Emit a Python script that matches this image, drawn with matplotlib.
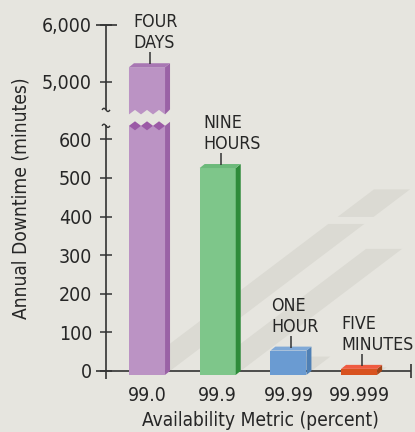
import numpy as np
import matplotlib
matplotlib.use("Agg")
import matplotlib.pyplot as plt
from matplotlib.patches import Polygon
from matplotlib.transforms import IdentityTransform
from matplotlib.lines import Line2D

# ---------------- data ----------------
categories = ["99.0", "99.9", "99.99", "99.999"]
downtime_minutes = [5256, 525.6, 52.56, 5.26]
bar_labels = ["FOUR\nDAYS", "NINE\nHOURS", "ONE\nHOUR", "FIVE\nMINUTES"]
ytick_values = [0, 100, 200, 300, 400, 500, 600, 5000, 6000]
ytick_labels = ["0", "100", "200", "300", "400", "500", "600", "5,000", "6,000"]

front_colors = ["#bb93c4", "#7ec68a", "#6a9bd2", "#d8521f"]
side_colors = ["#9a62a6", "#2e8b3a", "#4f80b5", "#a34417"]
top_colors = ["#a877b3", "#6cb97a", "#80a9d7", "#ef5b41"]
diamond_color = "#9b5aa6"
bg = "#e6e5df"
shadow_color = "#dbdad3"
ink = "#262626"

# broken-axis scale (piecewise linear)
LOW_TOP = 635.0
HIGH_BOTTOM = 4511.0
sv = np.array([-1000.0, 0.0, LOW_TOP, HIGH_BOTTOM, 5000.0, 6000.0, 20000.0])
sp = np.array([-386.0, 0.0, 245.1, 261.0, 289.0, 346.3, 346.3 + 14000 * 0.0573])


def fwd(v):
    return np.interp(v, sv, sp)


def inv(p):
    return np.interp(p, sp, sv)


FONT = dict(family="DejaVu Sans", stretch="condensed")

fig = plt.figure(figsize=(4.15, 4.32), dpi=100, facecolor=bg)
W, H = 415, 432
ax = fig.add_axes([106 / W, 53 / H, 305 / W, 354.4 / H])
ax.set_facecolor("none")
ax.set_yscale("function", functions=(fwd, inv))
ax.set_ylim(-21, 6000)
ax.set_xlim(-0.58, 3.734)
for s in ax.spines.values():
    s.set_visible(False)

ax.set_yticks(ytick_values)
ax.set_yticklabels(ytick_labels, fontsize=14, color=ink, **FONT)
ax.tick_params(axis="y", direction="inout", length=8, width=1.1, color="#333333", pad=6)
ax.set_xticks(range(len(categories)))
ax.set_xticklabels(categories, fontsize=14, color=ink, **FONT)
ax.tick_params(axis="x", length=0, pad=5)
ax.yaxis.set_minor_locator(matplotlib.ticker.NullLocator())

fig.canvas.draw()
T = ax.transData


def D(x, y):
    return T.transform((x, y))


ident = IdentityTransform()


def poly(pts, color, z):
    p = Polygon(pts, closed=True, facecolor=color, edgecolor="none", transform=ident, zorder=z)
    fig.add_artist(p)


def line(pts, z=3, lw=1.2, color="#333333"):
    pts = np.array(pts)
    fig.add_artist(Line2D(pts[:, 0], pts[:, 1], transform=ident, color=color, lw=lw, zorder=z,
                          solid_capstyle="butt"))


DX, DY = 5.0, 4.0
half = 0.255
bottom_val = -10.4
SX, SY = 0.78, 0.59
label_dx = [4, 4, 1, 0.5]

# --- shadows ---
for i, v in enumerate(downtime_minutes):
    xl = D(i - half, 0)[0] + DX
    xr = D(i + half, 0)[0] + DX
    base = D(0, bottom_val)[1]
    top = D(0, v)[1]
    Htot = top - base
    segs = [(0, Htot)]
    if v > LOW_TOP:
        segs = [(0, D(0, LOW_TOP)[1] - base), (D(0, HIGH_BOTTOM)[1] - 4 - base, Htot)]
    b0 = base + DY
    for h1, h2 in segs:
        poly([(xl + SX * h1, b0 + SY * h1), (xr + SX * h1, b0 + SY * h1),
              (xr + SX * h2, b0 + SY * h2), (xl + SX * h2, b0 + SY * h2)], shadow_color, 1)

# --- axis lines ---
x_axis_left = D(-0.58, 0)[0]
y0 = D(0, 0)[1]
line([(x_axis_left - 10, y0), (D(3.734, 0)[0], y0)])
xe = D(3.734, 0)[0]
line([(xe, y0 - 7), (xe, y0 + 7)])
ytop = D(0, 6000)[1]
ylow_break = D(0, LOW_TOP)[1]
yhigh_break = D(0, HIGH_BOTTOM)[1]
line([(x_axis_left, ytop), (x_axis_left, yhigh_break - 0.5)])
line([(x_axis_left, ylow_break + 0.5), (x_axis_left, D(0, -21)[1])])
line([(x_axis_left - 10, ytop), (x_axis_left + 11, ytop)])
t = np.linspace(0, 1, 20)
for yb in (yhigh_break, ylow_break):
    line(np.column_stack([x_axis_left - 4 + 8 * t, yb + 1.6 * np.sin(2 * np.pi * t)]), lw=1.0)


# --- bars ---
def block(i, vb, vt, z=4):
    xl = D(i - half, 0)[0]
    xr = D(i + half, 0)[0]
    yb = D(0, vb)[1]
    yt = D(0, vt)[1]
    poly([(xl, yb), (xr, yb), (xr, yt), (xl, yt)], front_colors[i], z)
    poly([(xr, yb), (xr + DX, yb + DY), (xr + DX, yt + DY), (xr, yt)], side_colors[i], z)
    return xl, xr, yb, yt


for i, v in enumerate(downtime_minutes):
    if v > LOW_TOP:
        xl, xr, yb, yt = block(i, bottom_val, LOW_TOP)
        # diamonds of the cut face
        n = 3
        w = (xr - xl) / n
        for k in range(n):
            cx = xl + w * (k + 0.5)
            poly([(cx - w / 2, yt), (cx, yt + 4.5), (cx + w / 2, yt), (cx, yt - 4.5)], diamond_color, 5)
        # upper piece with notched bottom
        yb2 = D(0, HIGH_BOTTOM)[1] - 4.5
        yt2 = D(0, v)[1]
        pts = [(xl, yb2)]
        for k in range(n):
            cx = xl + w * (k + 0.5)
            pts += [(cx, yb2 + 4.5), (xl + w * (k + 1), yb2)]
        pts += [(xr, yt2), (xl, yt2)]
        poly(pts, front_colors[i], 4)
        poly([(xr, yb2), (xr + DX, yb2 + DY + 1), (xr + DX, yt2 + DY), (xr, yt2)], side_colors[i], 4)
        top_y = yt2
    else:
        xl, xr, yb, yt = block(i, bottom_val, v)
        top_y = yt
    poly([(xl, top_y), (xr, top_y), (xr + DX, top_y + DY), (xl + DX, top_y + DY)], top_colors[i], 5)
    # leader and label
    cx = (xl + xr) / 2 + DX / 2 + 0.5
    line([(cx, top_y + DY - 1), (cx, top_y + DY + 11)], lw=1.1, z=6)
    fig.text((xl + label_dx[i]) / W, (top_y + DY + 11) / H, bar_labels[i], ha="left", va="bottom",
             fontsize=12.8, color=ink, linespacing=1.22, **FONT)

fig.text(260 / W, (H - 421) / H, "Availability Metric (percent)", ha="center", va="center",
         fontsize=13.8, color=ink, **FONT)
fig.text(21 / W, (H - 198) / H, "Annual Downtime (minutes)", ha="center", va="center",
         rotation=90, fontsize=13.8, color=ink, **FONT)

fig.savefig("out.png", dpi=100, facecolor=bg)
